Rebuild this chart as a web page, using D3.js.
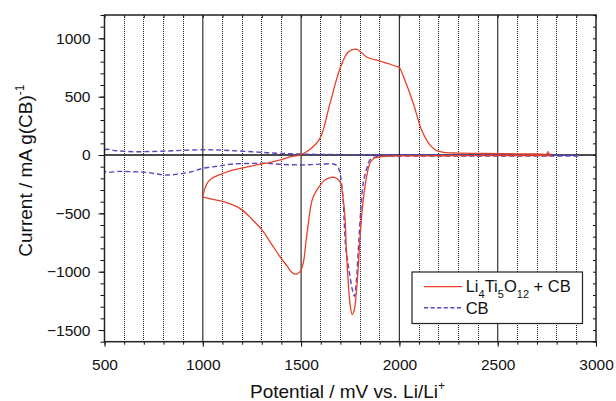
<!DOCTYPE html>
<html>
<head>
<meta charset="utf-8">
<script src="https://cdn.jsdelivr.net/npm/d3@7"></script>
<style>
  html, body { margin: 0; padding: 0; background: #fff; }
  svg { display: block; font-family: "Liberation Sans", Arial, Helvetica, sans-serif; }
</style>
</head>
<body>
<svg id="chart" width="616" height="401"></svg>
<script>
// ---- data ----
const seriesNames = ["Li4Ti5O12 + CB", "CB"];

// Li4Ti5O12 + CB : closed CV loop, anodic then cathodic
const ltoPotential = [
  1000, 1010, 1025, 1050, 1104, 1150, 1200, 1274, 1350, 1400, 1444, 1494, 1546, 1596,
  1647, 1698, 1740, 1783, 1834, 1901, 1950, 1990, 2000, 2028, 2071, 2113, 2156, 2190,
  2240, 2300, 2400, 2500, 2600, 2700, 2750, 2755, 2760, 2770,
  2770, 2700, 2500, 2300, 2100, 2000, 1950, 1901, 1870, 1850, 1835, 1816, 1800, 1791,
  1780, 1770, 1760, 1750, 1740, 1730, 1723, 1712, 1701, 1685, 1670, 1656, 1640, 1625,
  1612, 1590, 1562, 1548, 1537, 1525, 1511, 1495, 1480, 1469, 1450, 1430, 1394, 1350,
  1300, 1250, 1200, 1150, 1104, 1050, 1000
];
const ltoCurrent = [
  -361, -290, -235, -195, -157, -130, -112, -85, -60, -40, -15, 0, 50, 143,
  442, 741, 883, 906, 840, 805, 780, 757, 749, 641, 442, 214, 85, 37,
  20, 17, 14, 12, 10, 9, 9, 28, 9, 8,
  -3, -4, -5, -6, -7, -8, -10, -15, -30, -71, -170, -385, -700, -955,
  -1200, -1330, -1368, -1290, -1097, -800, -527, -350, -242, -205, -192, -191, -198, -210,
  -228, -275, -356, -450, -584, -740, -926, -1000, -1018, -1020, -1000, -955, -875, -765,
  -640, -550, -470, -425, -399, -380, -361
];

// CB : CV loop, cathodic from the right, back anodic from 500 mV
const cbPotential = [
  2910, 2500, 2200, 2000, 1950, 1901, 1870, 1850, 1835, 1816, 1800, 1791, 1780, 1771,
  1760, 1745, 1728, 1720, 1714, 1706, 1698, 1690, 1680, 1664, 1600, 1550, 1494, 1400,
  1325, 1250, 1155, 1080, 1000, 950, 884, 816, 750, 700, 647, 580, 500,
  500, 560, 647, 730, 816, 900, 1000, 1080, 1155, 1250, 1325, 1400, 1494, 1600, 1800,
  2000, 2500, 2910
];
const cbCurrent = [
  -8, -8, -8, -8, -8, -10, -20, -43, -110, -242, -560, -812, -1100, -1211,
  -1150, -1000, -812, -600, -385, -250, -157, -110, -88, -77, -78, -82, -85, -80,
  -71, -72, -77, -95, -114, -140, -162, -171, -158, -147, -143, -140, -137,
  43, 36, 28, 30, 34, 40, 45, 43, 37, 28, 20, 14, 9, 5, 3,
  2, 0, -2
];

const xMajorTicks = [500, 1000, 1500, 2000, 2500, 3000];
const yMajorTicks = [-1500, -1000, -500, 0, 500, 1000];
const gridSolid = [1000, 1500, 2000, 2500];

// ---- layout ----
const svg = d3.select("#chart");
const L = 104.5, R = 596, T = 15, B = 341.7;

const x = d3.scaleLinear().domain([500, 3000]).range([L, R]);
const y = d3.scaleLinear().domain([-1600, 1200]).range([B, T]);

const minorX = d3.range(500, 3001, 100);
const minorY = d3.range(-1600, 1201, 100);

// clip
svg.append("defs").append("clipPath").attr("id", "clip")
  .append("rect").attr("x", L).attr("y", T).attr("width", R - L).attr("height", B - T);

// grid: dotted every 100 mV, solid at 500 steps
svg.append("g").selectAll("line")
  .data(minorX.filter(v => v % 500 !== 0))
  .join("line")
  .attr("x1", d => x(d)).attr("x2", d => x(d))
  .attr("y1", T).attr("y2", B)
  .attr("stroke", "#222").attr("stroke-width", 1)
  .attr("stroke-dasharray", "1,1")
  .attr("shape-rendering", "crispEdges");

svg.append("g").selectAll("line")
  .data(gridSolid)
  .join("line")
  .attr("x1", d => x(d)).attr("x2", d => x(d))
  .attr("y1", T).attr("y2", B)
  .attr("stroke", "#333").attr("stroke-width", 1.2);

// zero line
svg.append("line")
  .attr("x1", L).attr("x2", R).attr("y1", y(0)).attr("y2", y(0))
  .attr("stroke", "#111").attr("stroke-width", 1.6);

// ---- curves ----
const line = d3.line()
  .x(d => x(d[0])).y(d => y(d[1]))
  .curve(d3.curveCatmullRom.alpha(0.5));

const ltoData = ltoPotential.map((p, i) => [p, ltoCurrent[i]]);
const cbData = cbPotential.map((p, i) => [p, cbCurrent[i]]);

const plot = svg.append("g").attr("clip-path", "url(#clip)");

plot.append("path").datum(cbData)
  .attr("d", line)
  .attr("fill", "none")
  .attr("stroke", "#5a44c2")
  .attr("stroke-width", 1.4)
  .attr("stroke-dasharray", "5,3");

plot.append("path").datum(ltoData)
  .attr("d", line)
  .attr("fill", "none")
  .attr("stroke", "#e8402a")
  .attr("stroke-width", 1.3);

// ---- axes ----
const tickFont = "15.5px";

const gLeft = svg.append("g").attr("transform", `translate(${L},0)`);
gLeft.call(d3.axisLeft(y).tickValues(minorY).tickSize(4).tickFormat(""));
gLeft.call(g => g.select(".domain").remove());
const gLeftMaj = svg.append("g").attr("transform", `translate(${L},0)`)
  .call(d3.axisLeft(y).tickValues(yMajorTicks).tickSize(6).tickPadding(8).tickFormat(d3.format("d")));
gLeftMaj.select(".domain").remove();
gLeftMaj.selectAll("text").attr("font-size", tickFont).attr("fill", "#111")
  .attr("font-family", "Liberation Sans, Arial, sans-serif");

const gBot = svg.append("g").attr("transform", `translate(0,${B})`);
gBot.call(d3.axisBottom(x).tickValues(minorX).tickSize(3).tickFormat(""));
gBot.select(".domain").remove();
const gBotMaj = svg.append("g").attr("transform", `translate(0,${B})`)
  .call(d3.axisBottom(x).tickValues(xMajorTicks).tickSize(5).tickFormat(d3.format("d")));
gBotMaj.select(".domain").remove();
gBotMaj.selectAll("text").attr("font-size", tickFont).attr("fill", "#111")
  .attr("y", 28.3).attr("dy", null)
  .attr("font-family", "Liberation Sans, Arial, sans-serif");

const gTop = svg.append("g").attr("transform", `translate(0,${T})`);
gTop.call(d3.axisBottom(x).tickValues(minorX).tickSize(3).tickFormat(""));
gTop.select(".domain").remove();

const gRight = svg.append("g").attr("transform", `translate(${R},0)`);
gRight.call(d3.axisLeft(y).tickValues(minorY).tickSize(3).tickFormat(""));
gRight.select(".domain").remove();

svg.selectAll(".tick line").attr("stroke", "#111").attr("stroke-width", 1);

// frame
svg.append("rect")
  .attr("x", L).attr("y", T).attr("width", R - L).attr("height", B - T)
  .attr("fill", "none").attr("stroke", "#222").attr("stroke-width", 1.5);

// ---- axis titles ----
const xt = svg.append("text")
  .attr("x", 250).attr("y", 397.5)
  .attr("font-size", "19px").attr("fill", "#111");
xt.append("tspan").text("Potential / mV vs. Li/Li");
xt.append("tspan").text("+").attr("font-size", "12px").attr("dy", -8);

const yt = svg.append("text")
  .attr("transform", "translate(31.5,256.7) rotate(-90)")
  .attr("font-size", "19px").attr("fill", "#111");
yt.append("tspan").text("Current / mA g(CB)");
yt.append("tspan").text("-1").attr("font-size", "12px").attr("dy", -8);

// ---- legend ----
const lg = svg.append("g");
lg.append("rect")
  .attr("x", 412).attr("y", 272).attr("width", 170.5).attr("height", 51.5)
  .attr("fill", "#fff").attr("stroke", "#222").attr("stroke-width", 1.2);

lg.append("line").attr("x1", 424).attr("x2", 462).attr("y1", 286.7).attr("y2", 286.7)
  .attr("stroke", "#e8402a").attr("stroke-width", 1.3);
lg.append("line").attr("x1", 424).attr("x2", 462).attr("y1", 307.7).attr("y2", 307.7)
  .attr("stroke", "#5a44c2").attr("stroke-width", 1.4).attr("stroke-dasharray", "4,2.6");

const t1 = lg.append("text").attr("x", 465.7).attr("y", 291.7)
  .attr("font-size", "16.5px").attr("fill", "#111");
const parts = [["Li", 0], ["4", 1], ["Ti", 0], ["5", 1], ["O", 0], ["12", 1], [" + CB", 0]];
let prevSub = 0;
parts.forEach(([s, sub]) => {
  const dy = sub ? 6.5 : (prevSub ? -6.5 : 0);
  t1.append("tspan").text(s).attr("font-size", sub ? "11px" : "16.5px").attr("dy", dy);
  prevSub = sub;
});
lg.append("text").attr("x", 465.7).attr("y", 314.3)
  .attr("font-size", "16.5px").attr("fill", "#111").text(seriesNames[1]);
</script>
</body>
</html>
